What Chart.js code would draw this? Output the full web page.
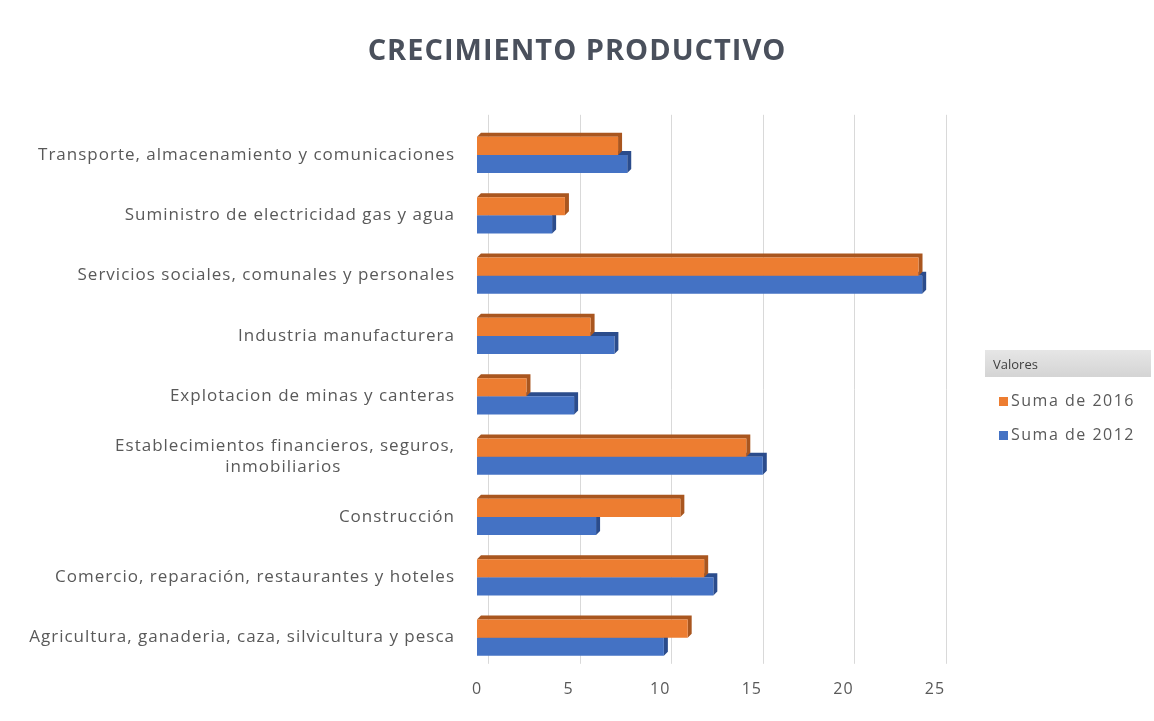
<!DOCTYPE html>
<html>
<head>
<meta charset="utf-8">
<script src="https://cdn.jsdelivr.net/npm/chart.js@4/dist/chart.umd.min.js"></script>
<style>
  body { margin: 0; background: #fff; }
  #wrap { position: relative; width: 1154px; height: 721px; }
  #legend {
    position: absolute; left: 985px; top: 350px; width: 166px;
    font-family: "Open Sans", sans-serif; color: #595959;
  }
  #legend .head {
    background: linear-gradient(#e6e6e6, #d4d4d4);
    color: #404040; font-size: 13px; padding: 5px 8px; height: 17px;
  }
  #legend .item { font-size: 16px; letter-spacing: 1.5px; margin: 12px 0 0 14px; }
  #legend .item span { display: inline-block; width: 9px; height: 9px; margin-right: 3px; }
</style>
</head>
<body>
<div id="wrap">
  <canvas id="barChart" width="1154" height="721"></canvas>
  <div id="legend"><div class="head">Valores</div></div>
</div>
<script>
// data
var categories = [
    "Transporte, almacenamiento y comunicaciones",
    "Suministro de electricidad gas y agua",
    "Servicios sociales, comunales y personales",
    "Industria manufacturera",
    "Explotacion de minas y canteras",
    ["Establecimientos financieros, seguros,", "inmobiliarios" + " ".repeat(21)],
    "Construcción",
    "Comercio, reparación, restaurantes y hoteles",
    "Agricultura, ganaderia, caza, silvicultura y pesca",
];
var suma2016 = [7.7, 4.8, 24.1, 6.2, 2.7, 14.7, 11.1, 12.4, 11.5];
var suma2012 = [8.2, 4.1, 24.3, 7.5, 5.3, 15.6, 6.5, 12.9, 10.2];
var xTicks = [0, 5, 10, 15, 20, 25];

var orange = "#ED7D31", orangeDark = "#A9561F";
var blue = "#4472C4", blueDark = "#2B4C8C";
var depth = 4, gridShift = 11;

// the source picture is stretched sideways, so space the letters a bit
var spacing = {
    id: "spacing",
    beforeDraw(chart) { chart.ctx.letterSpacing = "1px"; },
};

// fake 3d: grid on the back wall + top/right faces of each bar
var bar3d = {
    id: "bar3d",
    beforeDatasetsDraw(chart) {
        var ctx = chart.ctx, area = chart.chartArea, sx = chart.scales.x;
        ctx.save();
        ctx.strokeStyle = "#d9d9d9";
        ctx.lineWidth = 1;
        xTicks.forEach((v) => {
            var px = Math.round(sx.getPixelForValue(v) + gridShift) + 0.5;
            ctx.beginPath();
            ctx.moveTo(px, area.top - 10);
            ctx.lineTo(px, area.bottom - 4);
            ctx.stroke();
        });
        for (var i = chart.data.datasets.length - 1; i >= 0; i--) {
            var meta = chart.getDatasetMeta(i);
            var dark = chart.data.datasets[i].faceColor;
            meta.data.forEach((b) => {
                var top = b.y - b.height / 2, bot = b.y + b.height / 2;
                ctx.fillStyle = dark;
                ctx.beginPath();
                ctx.moveTo(b.base, top);
                ctx.lineTo(b.base + depth, top - depth);
                ctx.lineTo(b.x + depth, top - depth);
                ctx.lineTo(b.x + depth, bot - depth);
                ctx.lineTo(b.x, bot);
                ctx.lineTo(b.x, top);
                ctx.closePath();
                ctx.fill();
            });
        }
        ctx.restore();
    },
};

var ctx = document.getElementById("barChart").getContext("2d");
var chart = new Chart(ctx, {
    type: "bar",
    data: {
        labels: categories,
        datasets: [
            {
                label: "Suma de 2016",
                data: suma2016,
                backgroundColor: orange,
                faceColor: orangeDark,
                categoryPercentage: 0.6,
                barPercentage: 1,
            },
            {
                label: "Suma de 2012",
                data: suma2012,
                backgroundColor: blue,
                faceColor: blueDark,
                categoryPercentage: 0.6,
                barPercentage: 1,
            },
        ],
    },
    options: {
        indexAxis: "y",
        responsive: false,
        animation: false,
        layout: { padding: { left: 0, right: 0, bottom: 18, top: 0 } },
        plugins: {
            legend: { display: false },
            tooltip: { enabled: false },
            title: {
                display: true,
                text: "CRECIMIENTO PRODUCTIVO",
                color: "#4a505c",
                font: { family: "Open Sans", size: 29, weight: "bold" },
                padding: { top: 34, bottom: 56 },
            },
        },
        scales: {
            x: {
                min: 0,
                max: 25,
                afterBuildTicks: (axis) => {
                    axis.ticks = xTicks.map((v) => ({ value: v }));
                },
                grid: { display: false },
                border: { display: false },
                ticks: {
                    color: "#595959",
                    padding: 4,
                    font: { family: "Open Sans", size: 16 },
                },
            },
            y: {
                grid: { display: false },
                border: { display: false },
                afterFit: (axis) => { axis.width = 477; },
                ticks: {
                    color: "#595959",
                    padding: 14,
                    autoSkip: false,
                    font: { family: "Open Sans", size: 17 },
                },
            },
            // empty axis on the right keeps room for the legend
            yRight: {
                position: "right",
                grid: { display: false },
                border: { display: false },
                ticks: { display: false },
                afterFit: (axis) => { axis.width = 219; },
            },
        },
    },
    plugins: [spacing, bar3d],
});

// legend in html
var legend = document.getElementById("legend");
chart.data.datasets.forEach((ds) => {
    var row = document.createElement("div");
    row.className = "item";
    row.innerHTML = '<span style="background:' + ds.backgroundColor + '"></span>' + ds.label;
    legend.appendChild(row);
});
</script>
</body>
</html>
